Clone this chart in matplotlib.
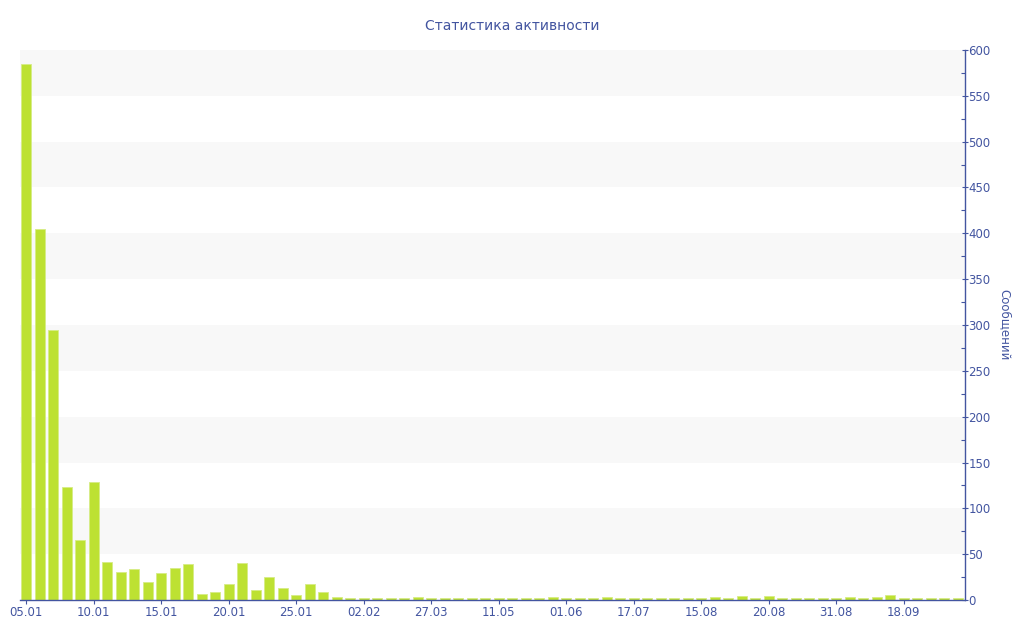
import matplotlib.pyplot as plt
from matplotlib.ticker import MultipleLocator

# Messages per day
values = [585, 405, 295, 123, 65, 129, 41, 31, 34, 20,
          29, 35, 39, 7, 9, 17, 40, 11, 25, 13,
          6, 18, 9, 3, 2, 2, 2, 2, 2, 3,
          2, 2, 2, 2, 2, 2, 2, 2, 2, 3,
          2, 2, 2, 3, 2, 2, 2, 2, 2, 2,
          2, 3, 2, 4, 2, 4, 2, 2, 2, 2,
          2, 3, 2, 3, 5, 2, 2, 2, 2, 2]
tick_labels = ["05.01", "10.01", "15.01", "20.01", "25.01", "02.02", "27.03",
               "11.05", "01.06", "17.07", "15.08", "20.08", "31.08", "18.09"]
y_ticks = list(range(0, 601, 50))

text_color = "#4355a0"
bar_color = "#bde132"

fig = plt.figure(figsize=(10.24, 6.4), dpi=100)
ax = fig.add_axes([20 / 1024, 40 / 640, 945 / 1024, 550 / 640])

# alternating background bands
for lo in range(50, 600, 100):
    ax.axhspan(lo, lo + 50, color="#f8f8f8", zorder=0, lw=0)

x = list(range(len(values)))
ax.bar(x, values, width=0.74, color=bar_color, edgecolor="#d6ec86", linewidth=0.6, zorder=2)

ax.set_xlim(-0.45, len(values) - 0.45)
ax.set_ylim(0, 600)

ax.set_xticks(x[::5])
ax.set_xticklabels(tick_labels)
ax.yaxis.tick_right()
ax.yaxis.set_label_position("right")
ax.set_yticks(y_ticks)
ax.yaxis.set_minor_locator(MultipleLocator(25))

ax.tick_params(axis="x", colors=text_color, labelsize=8.5, length=3, width=0.8, pad=1)
ax.tick_params(axis="y", which="major", colors=text_color, labelsize=8.5,
               direction="inout", length=5, width=0.8, pad=0)
ax.tick_params(axis="y", which="minor", colors=text_color, direction="in", length=3, width=0.8)

for side in ["left", "top"]:
    ax.spines[side].set_visible(False)
for side in ["right", "bottom"]:
    ax.spines[side].set_color(text_color)
    ax.spines[side].set_linewidth(1.0)

ax.set_ylabel("Сообщений", color=text_color, fontsize=8.5, rotation=-90, labelpad=15)
fig.suptitle("Статистика активности", color=text_color, fontsize=10, y=0.97)

fig.savefig("out.png", dpi=100)
